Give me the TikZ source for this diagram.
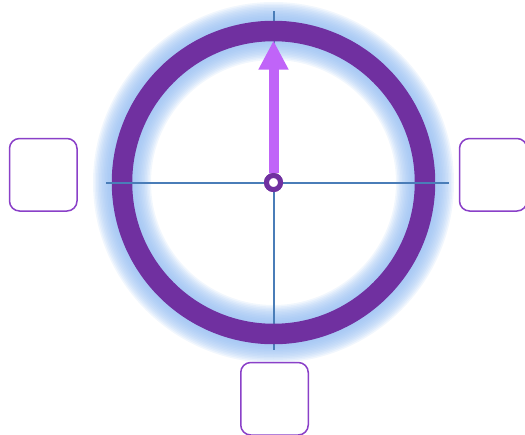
\documentclass[tikz,border=0pt]{standalone}
\usetikzlibrary{arrows.meta}
\definecolor{ringc}{HTML}{7030A0}
\definecolor{axisc}{HTML}{4A7DB8}
\definecolor{boxc}{HTML}{8A40C8}
\definecolor{arrowc}{HTML}{C064F8}
\definecolor{glowA}{HTML}{96BEF2}
\tikzset{
  axisline/.style={draw=axisc, line width=2pt},
  glowring/.style={draw=glowA, opacity=0.13},
  slot/.style={draw=boxc, line width=1.5pt, rounded corners=10pt, fill=white,
    minimum width=67.5pt, minimum height=72.5pt, inner sep=0pt},
  hub/.style={circle, draw=ringc, fill=white, line width=5pt, minimum size=14pt, inner sep=0pt},
  needle/.style={draw=arrowc, line width=10pt, -{Triangle[length=29pt,width=28pt]}}
}
\begin{document}
\begin{tikzpicture}[x=1pt,y=-1pt]
\useasboundingbox (0,0) rectangle (525,434);
\coordinate (ctr) at (273.5,182.5);
\foreach \w in {58,55,52,49,46,43,40,37,34,31,28,25}
  \draw[glowring, line width=\w pt] (ctr) circle (151.5);
\coordinate (vt) at (273.5,11);
\coordinate (vb) at (273.5,350);
\coordinate (hl) at (106,182.5);
\coordinate (hr) at (449,182.5);
\coordinate (tip) at (273.5,40.5);
\draw[axisline] (vt) -- (vb);
\draw[ringc, line width=20.5pt] (ctr) circle (151.5);
\draw[axisline] (hl) -- (hr);
\node[hub] (c) at (ctr) {};
\draw[needle] (c.north) -- (tip);
\node[hub] at (ctr) {};
\node[slot] (lbox) at (43.25,174.75) {};
\node[slot] (rbox) at (493.25,174.75) {};
\node[slot] (boxb) at (274.5,398.75) {};
\end{tikzpicture}
\end{document}
